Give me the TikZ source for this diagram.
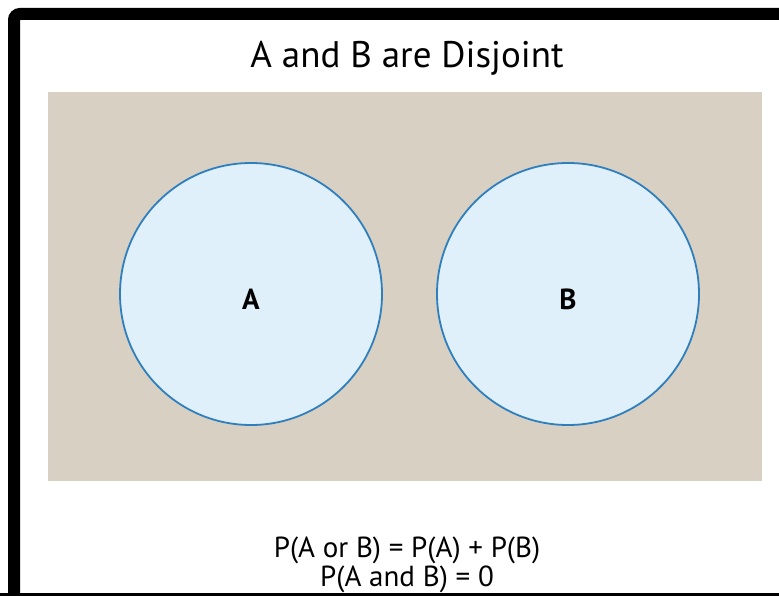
\documentclass[tikz,border=0pt]{standalone}
\usepackage{fontspec}
\setmainfont{PT Sans}
\definecolor{frameblack}{HTML}{000000}
\definecolor{panelgray}{HTML}{D7D0C3}
\definecolor{setfill}{HTML}{E0F0FB}
\definecolor{setline}{HTML}{2F7FBE}
\tikzset{
  setcircle/.style={circle, draw=setline, fill=setfill, line width=1.8pt, minimum size=262pt, inner sep=0pt},
  setlabel/.style={font=\fontsize{29}{29}\selectfont\bfseries},
  titletext/.style={font=\fontsize{37}{37}\selectfont},
  eqtext/.style={font=\fontsize{29}{29}\selectfont, align=center},
}
\begin{document}
\begin{tikzpicture}[x=1pt,y=-1pt]
\useasboundingbox (0,0) rectangle (779,596);
\fill[white] (0,0) rectangle (779,596);
\draw[frameblack, line width=12pt, rounded corners=6pt] (14,610) -- (14,14) -- (790,14);
\fill[frameblack] (0,592.5) rectangle (779,596);
\fill[panelgray] (48,92) rectangle (762,481);
\node[setcircle] (A) at (251,294) {};
\node[setcircle] (B) at (568,294) {};
\node[setlabel] (la) at (251,299) {A};
\node[setlabel] (lb) at (568,299) {B};
\node[titletext] (title) at (407,58) {A and B are Disjoint};
\node[eqtext, anchor=base] (eq1) at (407,557) {P(A or B) = P(A) + P(B)};
\node[eqtext, anchor=base] (eq2) at (407,586) {P(A and B) = 0};
\end{tikzpicture}
\end{document}
